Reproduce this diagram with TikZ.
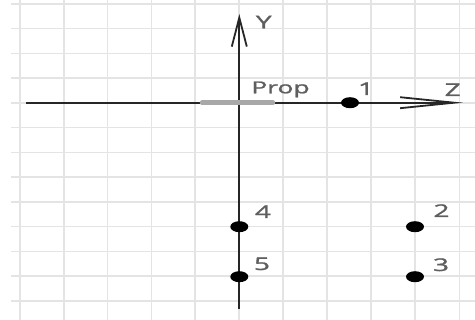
\documentclass[tikz,border=0pt]{standalone}
\usepackage{fontspec}
\usepackage{graphicx}
\setmainfont{Open Sans}
\newfontfamily\labfont{Open Sans}[FakeBold=1.2]
\usetikzlibrary{arrows.meta,shapes.geometric}
\definecolor{gridc}{HTML}{E4E4E4}
\definecolor{axisc}{HTML}{262626}
\definecolor{labc}{HTML}{5E5E5E}
\definecolor{propc}{HTML}{A8A8A8}
\newcommand{\widetxt}[1]{\scalebox{1.6}[1]{#1}}
\begin{document}
\begin{tikzpicture}[x=1pt,y=-1pt,
  dot/.style={ellipse,fill=black,inner sep=0pt,minimum width=18pt,minimum height=11pt},
  lab/.style={text=labc,font=\labfont\fontsize{17.5}{17.5}\selectfont,inner sep=0pt,anchor=base},
  axisline/.style={draw=axisc,line width=1.8pt}]
\useasboundingbox (0,0) rectangle (475,320);
\fill[white] (0,0) rectangle (475,320);
% grid
\foreach \x in {20,63.8,107.6,151.4,195.2,239,283,327,371,415,459.5}
  \draw[gridc,line width=1.5pt] (\x,0) -- (\x,320);
\foreach \y in {4,28.75,53.5,78.25,103,127.75,152.5,177.25,202,226.75,251.5,276.25,301}
  \draw[gridc,line width=1.5pt] (11,\y) -- (475,\y);
% axes
\coordinate (zl) at (26,102.7);
\coordinate (zr) at (463,102.7);
\coordinate (yb) at (239.3,309);
\coordinate (yt) at (239.3,14);
\draw[axisline,-{Straight Barb[length=54pt,width=11pt,line width=1.8pt]}] (zl) -- (zr);
\draw[axisline,-{Straight Barb[length=29pt,width=15pt,line width=1.8pt]}] (yb) -- (yt);
% prop
\coordinate (pl) at (202,102.7);
\coordinate (pr) at (273,102.7);
\draw[propc,line width=4.5pt,line cap=round] (pl) -- (pr);
\node[lab,font=\labfont\fontsize{16.5}{16.5}\selectfont] (prop) at (280.5,93.3) {\widetxt{Prop}};
\node[lab] (zlab) at (452.7,96) {\widetxt{Z}};
\node[lab] (ylab) at (263.8,28.3) {\widetxt{Y}};
% points
\node[dot] (p1) at (350,102.7) {};
\node[dot] (p4) at (239.3,226.7) {};
\node[dot] (p5) at (239.3,276.7) {};
\node[dot] (p2) at (415,226.7) {};
\node[dot] (p3) at (415,276.7) {};
\node[lab] (l1) at (366,95) {\widetxt{1}};
\node[lab] (l4) at (263,218) {\widetxt{4}};
\node[lab] (l5) at (262,270) {\widetxt{5}};
\node[lab] (l2) at (441.5,217) {\widetxt{2}};
\node[lab] (l3) at (441,271) {\widetxt{3}};
\end{tikzpicture}
\end{document}
